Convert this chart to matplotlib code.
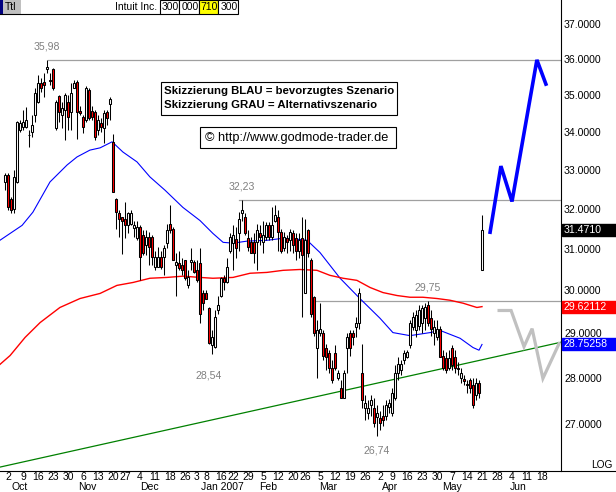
import numpy as np
import matplotlib
matplotlib.use("Agg")
import matplotlib.pyplot as plt
from matplotlib.patches import Rectangle
from matplotlib.lines import Line2D
from matplotlib.ticker import NullLocator, NullFormatter

W, H, DPI = 616, 492, 100
AXIS_RIGHT_PX = 561
AXIS_BOTTOM_PX = 471
FIRST_BAR_PX = 5
PX_PER_BAR = 3
FONT = "Liberation Sans"

# daily candles, Sep 29 2006 .. May 21 2007 (index = trading day)
candle_open = [
    32.68, 32.86, 32.24, 32.00, 32.68, 34.04, 34.12, 34.12, 33.91, 33.99,
    34.45, 34.80, 35.33, 35.36, 35.72, 35.42, 35.72, 34.09, 34.98, 34.45,
    34.58, 34.80, 34.53, 35.20, 35.36, 34.56, 34.39, 34.31, 35.13, 34.56,
    34.53, 34.04, 34.23, 34.09, 34.53, 34.75, 33.72, 32.24, 31.88, 31.78,
    31.75, 31.58, 31.62, 31.51, 31.26, 31.53, 31.33, 31.09, 31.28, 31.28,
    30.55, 30.55, 30.79, 30.79, 31.14, 31.62, 31.50, 30.60, 30.65, 30.60,
    30.72, 30.12, 30.67, 30.67, 30.48, 30.65, 29.93, 29.93, 29.58, 28.73,
    28.70, 29.53, 29.88, 30.29, 30.19, 30.96, 31.14, 31.23, 31.38, 31.88,
    31.78, 31.26, 31.16, 31.16, 31.16, 31.38, 31.16, 31.28, 31.58, 31.28,
    31.70, 31.78, 31.41, 31.01, 31.26, 31.21, 31.38, 31.26, 30.96, 31.26,
    29.95, 31.46, 30.72, 29.84, 28.66, 29.00, 29.00, 28.68, 28.55, 28.21,
    28.55, 27.99, 27.79, 27.57, 28.68, 29.00, 29.00, 29.14, 29.23, 28.12,
    27.35, 27.24, 27.40, 27.35, 27.16, 27.12, 27.18, 27.18, 27.37, 27.24,
    27.57, 28.10, 28.17, 28.39, 28.46, 28.73, 29.14, 29.07, 29.18, 29.23,
    29.35, 29.65, 29.35, 29.00, 28.91, 29.11, 28.50, 28.44, 28.23, 28.66,
    28.46, 28.23, 28.01, 27.97, 27.86, 27.95, 27.84, 27.62, 27.88, 30.48,
]
candle_high = [
    32.91, 32.91, 32.30, 32.99, 34.30, 34.31, 34.58, 34.66, 34.04, 34.45,
    35.19, 35.55, 35.47, 35.60, 35.98, 35.60, 35.75, 34.86, 35.00, 34.80,
    35.05, 35.00, 35.33, 35.41, 35.41, 34.70, 34.45, 35.24, 35.19, 34.70,
    34.58, 34.45, 34.36, 34.58, 34.58, 34.94, 33.94, 32.26, 31.96, 31.78,
    32.16, 31.91, 31.96, 31.70, 31.70, 31.58, 31.46, 31.46, 31.41, 31.33,
    30.96, 31.04, 30.96, 31.09, 31.62, 32.08, 31.53, 30.91, 30.96, 30.77,
    30.72, 30.48, 31.01, 30.72, 30.72, 31.01, 30.00, 30.00, 29.60, 29.07,
    29.53, 29.88, 30.31, 30.36, 30.77, 31.38, 31.58, 31.53, 31.91, 32.23,
    31.88, 31.46, 31.28, 31.38, 31.62, 31.58, 31.70, 31.66, 31.66, 32.03,
    32.08, 31.96, 31.50, 31.41, 31.33, 31.50, 31.46, 31.38, 31.38, 31.78,
    31.75, 31.50, 30.77, 29.88, 29.30, 29.70, 29.07, 28.77, 28.62, 28.39,
    28.73, 28.17, 27.95, 28.17, 29.00, 29.07, 29.07, 29.37, 30.05, 28.77,
    27.62, 27.51, 27.62, 27.57, 27.40, 27.29, 27.40, 27.51, 27.55, 27.77,
    28.28, 28.46, 28.39, 28.62, 28.62, 29.30, 29.49, 29.53, 29.65, 29.65,
    29.70, 29.75, 29.53, 29.30, 29.30, 29.18, 28.62, 28.57, 28.62, 28.73,
    28.62, 28.35, 28.21, 28.06, 27.95, 28.01, 28.01, 28.01, 27.95, 31.83,
]
candle_low = [
    32.47, 31.96, 31.90, 31.90, 32.65, 33.99, 34.04, 34.09, 33.60, 33.86,
    34.25, 34.78, 35.07, 34.95, 35.60, 35.27, 35.13, 34.04, 34.25, 34.09,
    33.78, 34.04, 34.04, 35.20, 33.80, 34.45, 33.96, 34.25, 34.31, 34.31,
    33.78, 33.91, 33.99, 33.70, 34.17, 34.31, 32.42, 31.50, 31.28, 30.88,
    31.26, 31.38, 31.58, 31.28, 31.21, 30.24, 30.84, 30.84, 30.60, 30.60,
    30.48, 30.55, 30.50, 30.36, 31.01, 31.38, 30.72, 29.88, 30.48, 30.36,
    30.24, 30.05, 30.48, 30.41, 30.19, 29.23, 29.53, 29.81, 28.77, 28.54,
    28.68, 29.46, 29.84, 30.00, 30.17, 30.89, 30.48, 30.77, 30.96, 31.70,
    31.33, 30.96, 30.89, 30.65, 30.48, 31.09, 30.91, 31.21, 31.21, 31.21,
    31.66, 30.96, 30.89, 30.96, 30.89, 30.96, 30.89, 30.72, 30.77, 29.37,
    29.93, 30.79, 29.37, 28.95, 28.01, 28.95, 28.39, 28.17, 28.12, 27.90,
    28.17, 27.95, 27.57, 27.57, 28.10, 28.50, 28.73, 28.91, 29.11, 27.35,
    27.08, 27.10, 27.18, 26.93, 26.74, 26.87, 26.97, 27.08, 27.24, 27.18,
    27.51, 27.95, 28.06, 28.32, 28.44, 28.68, 29.07, 28.91, 29.07, 29.00,
    29.07, 29.18, 28.95, 28.73, 28.84, 28.46, 28.17, 28.12, 28.17, 28.17,
    28.12, 28.06, 27.90, 27.84, 27.68, 27.68, 27.35, 27.51, 27.57, 30.48,
]
candle_close = [
    32.86, 32.03, 31.96, 32.81, 34.25, 34.23, 34.25, 34.31, 33.90, 34.17,
    35.05, 35.33, 35.20, 35.28, 35.78, 35.38, 35.20, 34.80, 34.53, 34.64,
    35.00, 34.39, 35.05, 35.33, 34.53, 34.50, 34.12, 35.19, 34.36, 34.39,
    33.86, 34.31, 34.12, 34.50, 34.36, 34.89, 32.42, 31.91, 31.73, 31.70,
    31.58, 31.88, 31.88, 31.58, 31.53, 30.79, 30.91, 31.28, 31.04, 30.79,
    30.79, 30.79, 30.55, 31.01, 31.46, 31.46, 30.72, 30.67, 30.53, 30.48,
    30.29, 30.31, 30.74, 30.43, 30.24, 29.46, 29.70, 29.81, 28.79, 28.91,
    29.37, 29.65, 30.29, 30.19, 30.55, 31.28, 31.33, 31.01, 31.75, 31.96,
    31.38, 31.04, 30.91, 30.89, 31.46, 31.28, 31.33, 31.58, 31.28, 31.58,
    31.83, 31.41, 30.96, 31.28, 31.16, 31.41, 31.09, 30.96, 31.21, 30.84,
    31.21, 30.89, 29.46, 29.00, 29.07, 29.11, 28.50, 28.46, 28.21, 27.95,
    28.21, 28.10, 27.57, 28.12, 28.91, 28.68, 28.91, 29.25, 29.95, 27.51,
    27.46, 27.35, 27.51, 27.03, 27.24, 27.03, 27.08, 27.40, 27.46, 27.68,
    28.12, 28.32, 28.32, 28.55, 28.57, 29.23, 29.37, 29.42, 29.53, 29.58,
    29.60, 29.23, 29.11, 29.14, 29.11, 28.46, 28.21, 28.17, 28.44, 28.28,
    28.23, 28.19, 28.12, 27.93, 27.84, 27.79, 27.40, 27.90, 27.66, 31.47,
]

# moving averages (blue = short, red = long)
ma_blue_idx = [-1.7, 5.7, 9.3, 15, 20.7, 24, 28.3, 31.7, 35.7, 39.3, 44, 48.3,
               53.3, 59.3, 65, 69.3, 72.7, 76, 80.7, 87.3, 92.7, 98.3, 100.7,
               105, 111.7, 118.3, 125, 129.3, 135, 141.7, 145, 151.7, 156, 158, 159]
ma_blue = [31.21, 31.58, 31.91, 32.68, 33.12, 33.33, 33.51, 33.57, 33.73, 33.46,
           33.20, 32.81, 32.47, 32.03, 31.70, 31.38, 31.16, 31.14, 31.19, 31.21,
           31.26, 31.23, 31.21, 30.91, 30.29, 29.81, 29.35, 29.02, 28.95, 29.02,
           29.07, 28.89, 28.68, 28.62, 28.75]
ma_red_idx = [-1.7, 1.7, 6.7, 11.7, 18.3, 25, 31.7, 37.3, 42.7, 48.3, 54, 59.3,
              65, 69.3, 76, 81.7, 87.3, 92.7, 98.3, 104, 108.3, 112.7, 117.3,
              121.7, 126, 130.7, 135, 139.3, 144, 148.3, 152.7, 157.3, 159]
ma_red = [28.30, 28.50, 28.91, 29.25, 29.60, 29.81, 29.93, 30.12, 30.19, 30.29,
          30.31, 30.34, 30.31, 30.29, 30.31, 30.41, 30.43, 30.48, 30.50, 30.48,
          30.36, 30.29, 30.24, 30.07, 29.95, 29.88, 29.84, 29.84, 29.81, 29.77,
          29.70, 29.60, 29.62]

trend_idx = [-1.7, 185.3]
trend_price = [26.10, 28.80]

level_price = [35.98, 32.23, 29.75]
level_start = [14.3, 78, 102.3]

high_label_idx = [14, 79, 141]
high_label_text = ["35,98", "32,23", "29,75"]
low_label_idx = [68, 124]
low_label_price = [28.54, 26.74]
low_label_text = ["28,54", "26,74"]

# drawn scenarios
blue_path_idx = [161.7, 165.3, 169.0, 177.3, 180.3]
blue_path_price = [31.41, 33.09, 32.18, 35.98, 35.30]
gray_path_idx = [164.7, 168.7, 173.0, 175.7, 179.3, 184.7]
gray_path_price = [29.53, 29.53, 28.70, 29.11, 27.99, 28.77]

y_ticks = [27, 28, 29, 30, 31, 32, 33, 34, 35, 36, 37]
last_labels = ["31.4710", "29.62112", "28.75258"]
last_values = [31.4710, 29.62112, 28.75258]
last_colors = ["#000000", "#ff0000", "#0000ff"]

day_labels = ["2", "9", "16", "23", "30", "6", "13", "20", "27", "4", "11", "18",
              "26", "3", "8", "16", "22", "29", "5", "12", "20", "26", "5", "12",
              "19", "26", "2", "9", "16", "23", "30", "7", "14", "21", "28", "4",
              "11", "18"]
day_idx = [1, 6, 11, 16, 21, 26, 31, 36, 40, 45, 50, 55, 60, 64, 67, 72, 76, 81,
           86, 91, 96, 100, 105, 110, 115, 120, 125, 129, 134, 139, 144, 149, 154,
           159, 164, 169, 174, 179]
month_labels = ["Oct", "Nov", "Dec", "Jan 2007", "Feb", "Mar", "Apr", "May", "Jun"]
month_idx = [5, 27.3, 48.3, 72.3, 87.7, 107.7, 128.3, 149, 171]


def fig_xy(x, y):
    return x / W, 1 - y / H


def draw_candles(ax):
    idx = np.arange(len(candle_open))
    o = np.array(candle_open)
    c = np.array(candle_close)
    ax.vlines(idx, candle_low, candle_high, color="black", linewidth=0.75, zorder=3)
    up = c >= o
    bottoms = np.minimum(o, c)
    heights = np.maximum(np.abs(c - o), 0.015)
    ax.bar(idx, heights, bottom=bottoms, width=0.85,
           color=np.where(up, "white", "#ff0000"), edgecolor="black",
           linewidth=0.75, zorder=4)


def draw_overlays(ax):
    ax.plot(ma_blue_idx, ma_blue, color="#0000ff", linewidth=0.8, zorder=2)
    ax.plot(ma_red_idx, ma_red, color="#ff0000", linewidth=1.0, zorder=2)
    ax.plot(trend_idx, trend_price, color="#008000", linewidth=0.9, zorder=2)

    right = ax.get_xlim()[1]
    for p, start in zip(level_price, level_start):
        ax.plot([start, right], [p, p], color="#a0a0a0", linewidth=0.9, zorder=1)

    for n, (i, txt) in enumerate(zip(high_label_idx, high_label_text)):
        ax.annotate(txt, (i, level_price[n]), xytext=(0, 9.5), textcoords="offset points",
                    ha="center", va="center", color="#808080", fontsize=7.6, family=FONT)
    for i, p, txt, dy in zip(low_label_idx, low_label_price, low_label_text, [-15.5, -10]):
        ax.annotate(txt, (i, p), xytext=(0, dy), textcoords="offset points",
                    ha="center", va="center", color="#808080", fontsize=7.6, family=FONT)

    ax.plot(blue_path_idx, blue_path_price, color="#0000ff", linewidth=2.6,
            solid_joinstyle="miter", zorder=5)
    ax.plot(gray_path_idx, gray_path_price, color="#c0c0c0", linewidth=2.3,
            solid_joinstyle="miter", zorder=5)


def draw_axes_text(fig, ax):
    ax.set_yticks(y_ticks)
    ax.set_yticklabels([f"{v:.4f}" for v in y_ticks], family=FONT, fontsize=7.6)
    ax.yaxis.set_minor_locator(NullLocator())
    ax.yaxis.set_minor_formatter(NullFormatter())
    ax.yaxis.tick_right()
    ax.tick_params(axis="y", length=0, pad=2.2)
    ax.set_xticks([])

    for lbl, v, col in zip(last_labels, last_values, last_colors):
        fy = ax.transData.transform((0, v))[1] / H
        fig.add_artist(Rectangle((562 / W, fy - 6 / H), 54 / W, 12 / H,
                                 transform=fig.transFigure, color=col, zorder=10))
        fig.text(564 / W, fy, lbl, color="white", fontsize=7.6, family=FONT,
                 va="center", ha="left", zorder=11)

    fig.text(*fig_xy(612, 465), "LOG", fontsize=7.3, family=FONT, ha="right", va="center")
    fig.add_artist(Line2D([0, 1], [1 - AXIS_BOTTOM_PX / H] * 2, color="black",
                          linewidth=0.8, transform=fig.transFigure))

    for lbl, i in zip(day_labels, day_idx):
        x = ax.transData.transform((i, 30))[0] / W
        fig.text(x, 1 - 477.5 / H, lbl, fontsize=7.5, family=FONT, ha="center", va="center")
    for lbl, i in zip(month_labels, month_idx):
        x = ax.transData.transform((i, 30))[0] / W
        fig.text(x, 1 - 487 / H, lbl, fontsize=7.5, family=FONT, ha="center", va="center")


def draw_header(fig):
    def box(x0, x1, y0, y1, fc, ec="none", lw=0.0):
        fig.add_artist(Rectangle(fig_xy(x0, y1), (x1 - x0) / W, (y1 - y0) / H,
                                 transform=fig.transFigure, facecolor=fc,
                                 edgecolor=ec, linewidth=lw, zorder=10))

    box(0, 3, 0, 14, "#000080")
    box(3, 21, 0, 14, "#c0c0c0")
    fig.text(*fig_xy(5, 7.5), "Ttl", fontsize=7.5, family=FONT, va="center", zorder=11)
    fig.text(*fig_xy(157, 7.5), "Intuit Inc.", fontsize=7.5, family=FONT,
             ha="right", va="center", zorder=11)
    cells = [(160, 179, "white", "300"), (179, 199, "white", "000"),
             (199, 218, "#ffff00", "710"), (218, 238, "white", "300")]
    for x0, x1, fc, txt in cells:
        box(x0, x1, 0, 14, fc, "black", 0.8)
        fig.text(*fig_xy((x0 + x1) / 2 + 1, 7.5), txt, fontsize=7.5, family=FONT,
                 ha="center", va="center", zorder=11)
    fig.add_artist(Line2D([0, 160 / W], [1 - 14 / H] * 2, color="black",
                          linewidth=0.8, transform=fig.transFigure, zorder=11))

    box(161, 397, 82, 115, "white", "black", 0.8)
    fig.text(*fig_xy(164, 91.5), "Skizzierung BLAU = bevorzugtes Szenario",
             fontsize=8.2, fontweight="bold", family=FONT, va="center", zorder=11)
    fig.text(*fig_xy(164, 105), "Skizzierung GRAU = Alternativszenario",
             fontsize=8.2, fontweight="bold", family=FONT, va="center", zorder=11)
    box(200, 396, 127, 148, "white", "black", 0.8)
    fig.text(*fig_xy(205, 137.5), "\u00a9 http://www.godmode-trader.de",
             fontsize=9.2, family=FONT, va="center", zorder=11)


def run() -> None:
    fig = plt.figure(figsize=(W / DPI, H / DPI), dpi=DPI)
    ax = fig.add_axes([0, 1 - AXIS_BOTTOM_PX / H, AXIS_RIGHT_PX / W, AXIS_BOTTOM_PX / H])
    ax.set_yscale("log")
    ax.set_ylim(26.02, 37.72)
    ax.set_xlim(-FIRST_BAR_PX / PX_PER_BAR, (AXIS_RIGHT_PX - FIRST_BAR_PX) / PX_PER_BAR)
    for side in ["top", "left", "bottom"]:
        ax.spines[side].set_visible(False)
    ax.spines["right"].set_linewidth(0.8)

    draw_overlays(ax)
    draw_candles(ax)
    draw_axes_text(fig, ax)
    draw_header(fig)

    fig.savefig("out.png", dpi=DPI)
    plt.close(fig)


if __name__ == "__main__":
    run()
